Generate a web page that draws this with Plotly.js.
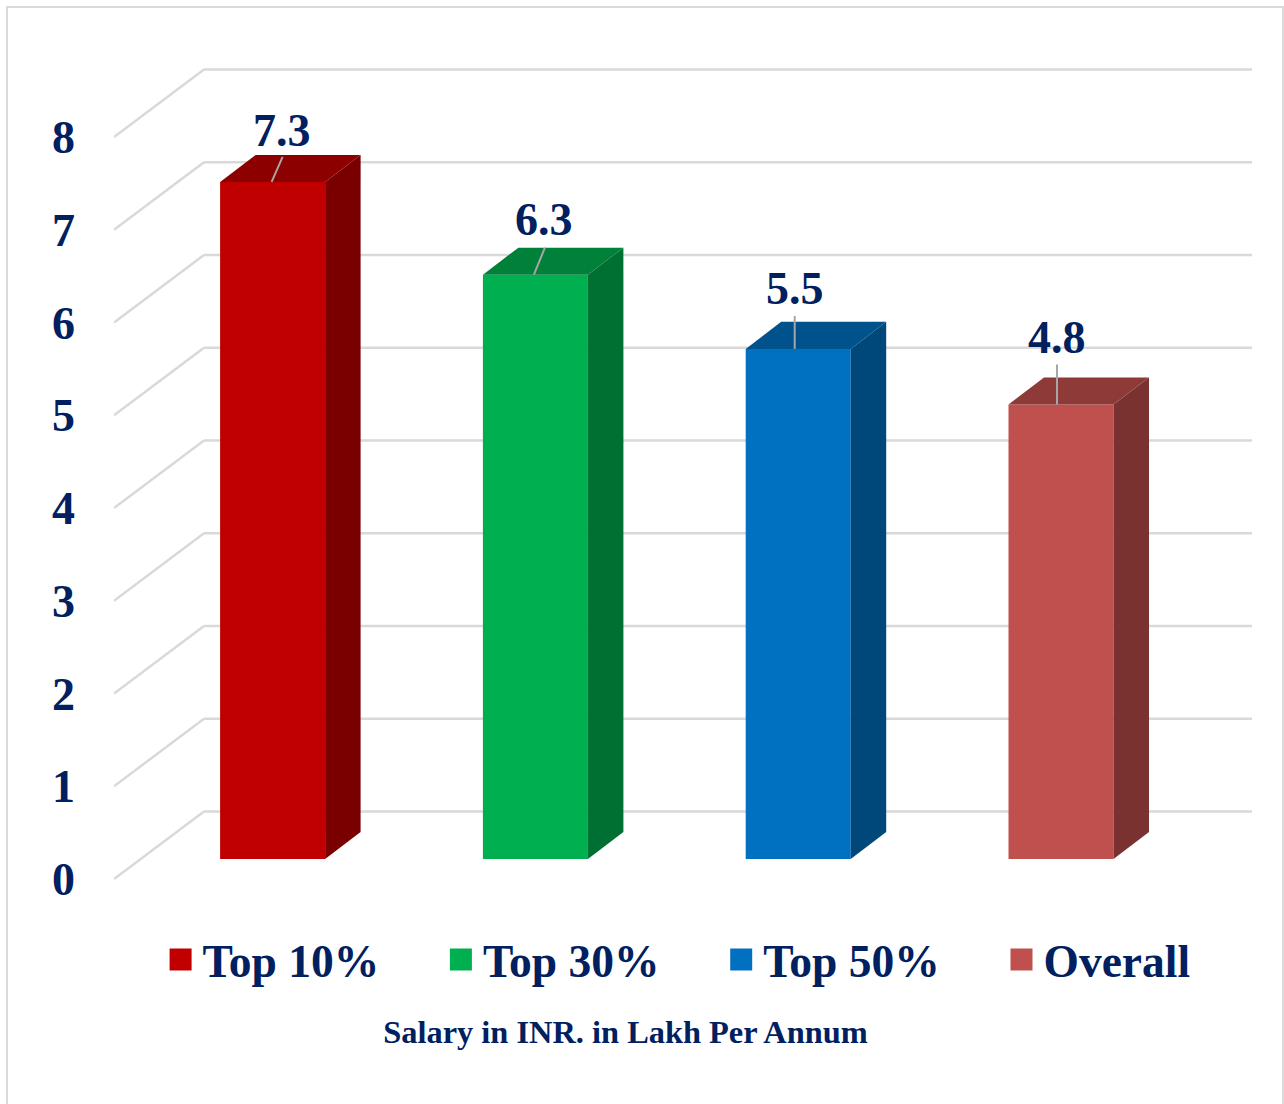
<!DOCTYPE html>
<html>
<head>
<meta charset="utf-8">
<script src="https://cdn.plot.ly/plotly-3.0.1.min.js"></script>
<style>html,body{margin:0;padding:0;background:#fff}</style>
</head>
<body>
<div id="chart" style="width:1284px;height:1104px"></div>
<script>
const categories = ['Top 10%', 'Top 30%', 'Top 50%', 'Overall'];
const barValues = [7.3, 6.3, 5.5, 4.9];
const barLabels = ['7.3', '6.3', '5.5', '4.8'];
const tickValues = [0, 1, 2, 3, 4, 5, 6, 7, 8];
const frontColors = ['#C00000', '#00B050', '#0070C0', '#C0504D'];
const topColors = ['#8C0000', '#00813A', '#00528C', '#8D3A38'];
const sideColors = ['#7A0000', '#006F32', '#00477A', '#7A3230'];
const leaderStartX = [-1, -1.5, -3.5, -4];
const leaderRiseX = [11, 11, 0, 0];
const leaderRiseY = [25, 27, 33, 40];
const labelShiftX = [-1, -1, 0, 0];
const labelShiftY = [26, 28, 27, 27];

const W = 1284, H = 1104;
const M = {l: 114, r: 0, t: 30, b: 204};
const unitX = 262.8, unitY = 92.75, firstBar = 272.6, originY = 879;
const xMin = (M.l - firstBar) / unitX, xMax = (W - M.r - firstBar) / unitX, gridEnd = (1252 - firstBar) / unitX;
const barW = 105 / unitX, depthX = 35.5 / unitX, depthY = 27 / unitY;
const floorY = 20 / unitY, wallX = 90 / unitX, wallY = 67.5 / unitY;
const navy = '#002060', serif = '"Liberation Serif", serif';
const px = v => v / unitX, py = v => v / unitY;
const paperX = p => (p - M.l) / (W - M.l - M.r);
const paperY = p => (H - M.b - p) / (H - M.t - M.b);

const traces = [];
categories.forEach((name, i) => {
  traces.push({type: 'bar', name, x: [i], y: [barValues[i]], base: floorY, width: barW,
    marker: {color: frontColors[i], line: {width: 0}}, showlegend: true, hoverinfo: 'x+y'});
});
categories.forEach((name, i) => {
  const xl = i - barW / 2, xr = i + barW / 2, top = floorY + barValues[i];
  traces.push({type: 'scatter', mode: 'lines', fill: 'toself', fillcolor: sideColors[i],
    line: {width: 0}, showlegend: false, hoverinfo: 'skip',
    x: [xr, xr + depthX, xr + depthX, xr, xr],
    y: [floorY, floorY + depthY, top + depthY, top, floorY]});
  traces.push({type: 'scatter', mode: 'lines', fill: 'toself', fillcolor: topColors[i],
    line: {width: 0}, showlegend: false, hoverinfo: 'skip',
    x: [xl, xl + depthX, xr + depthX, xr, xl],
    y: [top, top + depthY, top + depthY, top, top]});
  const sx = i + px(leaderStartX[i]);
  traces.push({type: 'scatter', mode: 'lines', line: {width: 2, color: '#A6A6A6'},
    showlegend: false, hoverinfo: 'skip',
    x: [sx, sx + px(leaderRiseX[i])], y: [top, top + py(leaderRiseY[i])]});
});

const shapes = [{type: 'rect', xref: 'paper', yref: 'paper', layer: 'below',
  x0: paperX(7), x1: paperX(1283), y0: paperY(7), y1: paperY(1120),
  line: {color: '#D9D9D9', width: 2}}];
tickValues.forEach(v => {
  const common = {type: 'line', xref: 'x', yref: 'y', layer: 'below', line: {color: '#D9D9D9', width: 2.5}};
  shapes.push(Object.assign({x0: xMin, y0: v, x1: xMin + wallX, y1: v + wallY}, common));
  shapes.push(Object.assign({x0: xMin + wallX, y0: v + wallY, x1: gridEnd, y1: v + wallY}, common));
});

const annotations = categories.map((name, i) => ({
  xref: 'x', yref: 'y', x: i, y: floorY + barValues[i], text: barLabels[i], showarrow: false,
  xanchor: 'center', yanchor: 'middle',
  xshift: leaderStartX[i] + leaderRiseX[i] + labelShiftX[i],
  yshift: leaderRiseY[i] + labelShiftY[i],
  font: {family: serif, size: 46, color: navy, weight: 700}
}));

const layout = {
  width: W, height: H, margin: M, paper_bgcolor: '#fff', plot_bgcolor: 'rgba(0,0,0,0)',
  showlegend: true,
  title: {text: 'Salary in INR. in Lakh Per Annum', x: 625.5 / W, xref: 'container', xanchor: 'center',
    y: 1 - 1032 / H, yref: 'container', yanchor: 'middle',
    font: {family: serif, size: 32.4, color: navy, weight: 700}},
  xaxis: {range: [xMin, xMax], showgrid: false, zeroline: false, showticklabels: false, ticks: '', showline: false, fixedrange: true},
  yaxis: {range: [(originY - 900) / unitY, (originY - 30) / unitY], tickmode: 'array', tickvals: tickValues,
    ticktext: tickValues.map(String), showgrid: false, zeroline: false, showline: false, ticks: '',
    ticklabelstandoff: 38, tickfont: {family: serif, size: 46, color: navy, weight: 700}, fixedrange: true},
  legend: {orientation: 'h', xref: 'container', yref: 'container', x: 719.6 / W, xanchor: 'center',
    y: 1 - 960 / H, yanchor: 'middle',
    itemwidth: 34, entrywidth: 231.3, entrywidthmode: 'pixels', traceorder: 'normal',
    bgcolor: 'rgba(0,0,0,0)', font: {family: serif, size: 45.5, color: navy, weight: 700}},
  shapes, annotations, barmode: 'overlay'
};

function growSwatches(gd) {
  gd.querySelectorAll('.legendpoints path').forEach(p => p.setAttribute('d', 'M11,11H-11V-11H11Z'));
}
Plotly.newPlot('chart', traces, layout, {displayModeBar: false}).then(gd => {
  growSwatches(gd);
  gd.on('plotly_afterplot', () => growSwatches(gd));
  requestAnimationFrame(() => growSwatches(gd));
  setTimeout(() => growSwatches(gd), 50);
});
</script>
</body>
</html>
